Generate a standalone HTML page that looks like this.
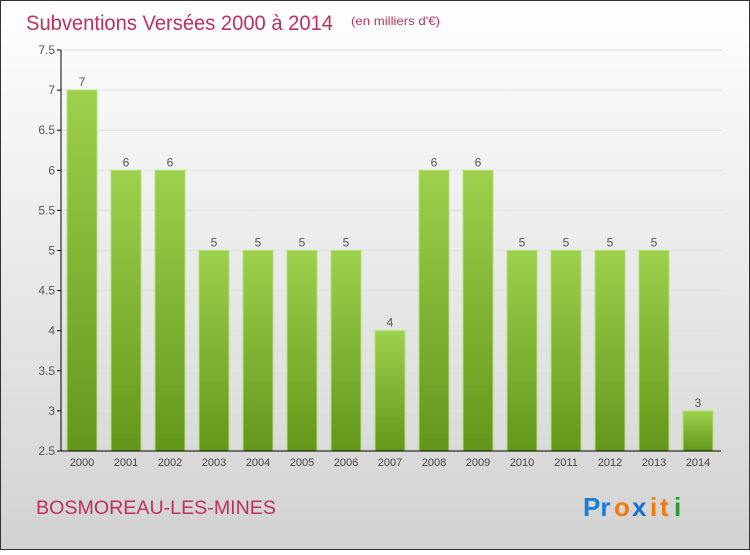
<!DOCTYPE html>
<html><head><meta charset="utf-8"><style>
html,body{margin:0;padding:0}
body{width:750px;height:550px;overflow:hidden;font-family:"Liberation Sans",sans-serif}
</style></head><body>
<svg id="chart" width="750" height="550" xmlns="http://www.w3.org/2000/svg">
<defs>
<linearGradient id="bg" x1="0" y1="0" x2="0" y2="1"><stop offset="0" stop-color="#ffffff"/><stop offset="1" stop-color="#d2d2d2"/></linearGradient>
<linearGradient id="bar" x1="0" y1="0" x2="0" y2="1"><stop offset="0" stop-color="#9dd14c"/><stop offset="1" stop-color="#62971a"/></linearGradient>
</defs>
<rect x="0.5" y="0.5" width="749" height="549" fill="url(#bg)" stroke="#333"/>
<text x="26" y="30" font-size="21" fill="#c0305e" textLength="307" lengthAdjust="spacingAndGlyphs">Subventions Versées 2000 à 2014</text>
<text x="351" y="25" font-size="12" fill="#c0305e" textLength="89" lengthAdjust="spacingAndGlyphs">(en milliers d'€)</text>
<g id="grid"></g><g id="bars"></g><g id="axes"></g>
<text x="36" y="514" font-size="19" fill="#c0305e" textLength="240" lengthAdjust="spacingAndGlyphs">BOSMOREAU-LES-MINES</text>
<g font-size="26" font-weight="bold" font-family="'Liberation Sans',sans-serif">
<text x="583" y="516" fill="#1a7fd4">Pr</text><text x="614" y="516" fill="#f07a10">o</text><text x="632" y="516" fill="#1a6fd0">x</text><text x="650" y="516" fill="#f07a10">i</text><text x="660" y="516" fill="#f07a10">t</text><text x="674" y="516" fill="#2a9a3a">i</text>
</g>
</svg>
<script>
const years=["2000","2001","2002","2003","2004","2005","2006","2007","2008","2009","2010","2011","2012","2013","2014"];
const values=[7,6,6,5,5,5,5,4,6,6,5,5,5,5,3];
const ticks=[2.5,3,3.5,4,4.5,5,5.5,6,6.5,7,7.5];
const NS="http://www.w3.org/2000/svg";
const y0=451,y1=50,vmin=2.5,vmax=7.5;
function yS(v){return y0-(v-vmin)/(vmax-vmin)*(y0-y1);}
function xS(i){return 82+i*44;}
function mk(t,a,p){const e=document.createElementNS(NS,t);for(const k in a)e.setAttribute(k,a[k]);p.appendChild(e);return e;}
const g=document.getElementById('grid'),b=document.getElementById('bars'),ax=document.getElementById('axes');
ticks.forEach(t=>{
 const l=mk('line',{x1:61,x2:722,y1:yS(t),y2:yS(t),stroke:'#e2e2e2'},g);
 
 
 const tk=mk('line',{x1:57,x2:61,y1:yS(t),y2:yS(t),stroke:'#000'},ax);
 
 
 const tx=mk('text',{x:55,y:yS(t)+4,'text-anchor':'end','font-size':12,fill:'#555'},ax);
 tx.textContent=String(t);
 
 
});
values.forEach((v,i)=>{
 const r=mk('rect',{x:xS(i)-15,y:yS(v),width:30,height:y0-yS(v),fill:'url(#bar)',stroke:'#b5e07a','stroke-width':1},b);
 
 
 const t=mk('text',{x:xS(i),y:yS(v)-4,'text-anchor':'middle','font-size':12,fill:'#555'},b);
 t.textContent=String(v);
 
 
 const yl=mk('text',{x:xS(i),y:466,'text-anchor':'middle','font-size':11,fill:'#444'},ax);
 yl.textContent=years[i];
 
 
});
const ya=mk('line',{x1:61,x2:61,y1:y1,y2:y0,stroke:'#000'},ax);


const xa=mk('line',{x1:61,x2:721,y1:y0,y2:y0,stroke:'#000'},ax);


</script>
</body></html>
